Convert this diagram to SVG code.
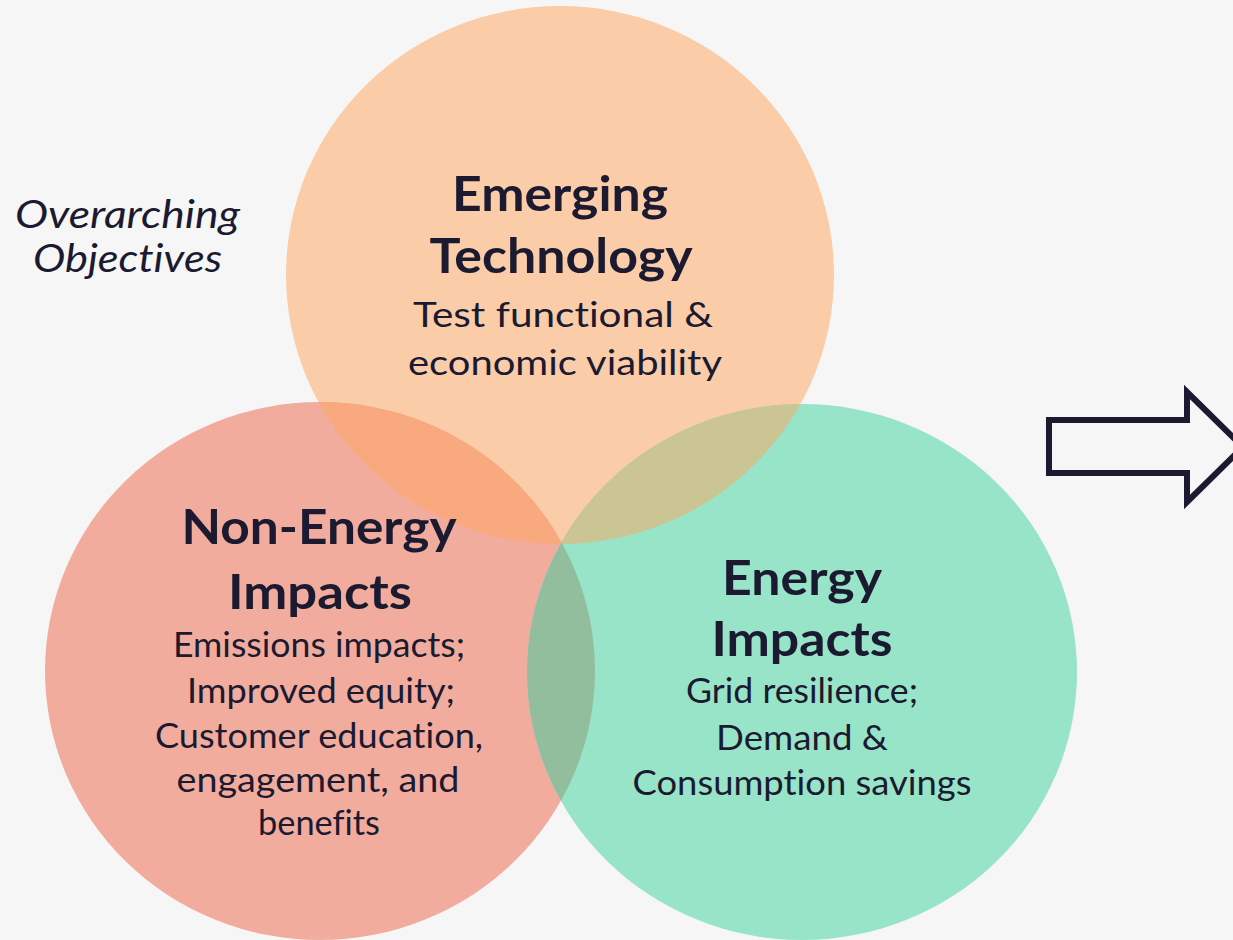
<svg xmlns="http://www.w3.org/2000/svg" width="1233" height="940" viewBox="0 0 1233 940">
  <style>
    text { font-variant-ligatures: none; }
    .title { font-family: Lato, "Liberation Sans", sans-serif; font-weight: 700; font-size: 47px; fill: #1b1a30; text-anchor: middle; }
    .body { font-family: Lato, "Liberation Sans", sans-serif; font-weight: 400; font-size: 34px; fill: #1b1a30; text-anchor: middle; }
    .note { font-family: Lato, "Liberation Sans", sans-serif; font-weight: 400; font-style: italic; font-size: 38px; fill: #1b1a30; }
  </style>
  <defs>
    <ellipse id="cTop" cx="560" cy="275" rx="274" ry="269"/>
    <ellipse id="cLeft" cx="320" cy="671" rx="275" ry="269"/>
    <ellipse id="cRight" cx="802" cy="672" rx="275" ry="268"/>
    <clipPath id="clipTop"><use href="#cTop"/></clipPath>
    <clipPath id="clipLeft"><use href="#cLeft"/></clipPath>
  </defs>
  <rect width="1233" height="940" fill="#f6f6f6"/>

  <g id="circles">
    <use href="#cTop" fill="#facca8"/>
    <use href="#cLeft" fill="#f2ac9e"/>
    <use href="#cRight" fill="#98e4c8"/>
  </g>
  <g id="overlaps">
    <g clip-path="url(#clipTop)">
      <use href="#cLeft" fill="#f8a97e"/>
      <use href="#cRight" fill="#cbc493"/>
    </g>
    <g clip-path="url(#clipLeft)">
      <use href="#cRight" fill="#93be9e"/>
    </g>
  </g>

  <g id="node-emerging-technology">
    <text class="title" x="560" y="211" textLength="216" lengthAdjust="spacingAndGlyphs">Emerging</text>
    <text class="title" x="561" y="273" textLength="263" lengthAdjust="spacingAndGlyphs">Technology</text>
    <text class="body" x="563" y="327" textLength="300" lengthAdjust="spacingAndGlyphs">Test functional &amp;</text>
    <text class="body" x="565" y="375" textLength="314" lengthAdjust="spacingAndGlyphs">economic viability</text>
  </g>

  <g id="node-non-energy-impacts">
    <text class="title" x="319" y="544" textLength="275" lengthAdjust="spacingAndGlyphs">Non-Energy</text>
    <text class="title" x="320" y="609" textLength="184" lengthAdjust="spacingAndGlyphs">Impacts</text>
    <text class="body" x="319" y="657" font-size="32" textLength="292" lengthAdjust="spacingAndGlyphs">Emissions impacts;</text>
    <text class="body" x="321" y="703" font-size="32" textLength="268" lengthAdjust="spacingAndGlyphs">Improved equity;</text>
    <text class="body" x="319" y="748" font-size="32" textLength="328" lengthAdjust="spacingAndGlyphs">Customer education,</text>
    <text class="body" x="318" y="792" font-size="32" textLength="283" lengthAdjust="spacingAndGlyphs">engagement, and</text>
    <text class="body" x="319" y="835" font-size="32" textLength="122" lengthAdjust="spacingAndGlyphs">benefits</text>
  </g>

  <g id="node-energy-impacts">
    <text class="title" x="802" y="595" textLength="160" lengthAdjust="spacingAndGlyphs">Energy</text>
    <text class="title" x="802" y="656" textLength="181" lengthAdjust="spacingAndGlyphs">Impacts</text>
    <text class="body" x="802" y="703" font-size="32" textLength="232" lengthAdjust="spacingAndGlyphs">Grid resilience;</text>
    <text class="body" x="802" y="750" font-size="32" textLength="172" lengthAdjust="spacingAndGlyphs">Demand &amp;</text>
    <text class="body" x="802" y="795" font-size="32" textLength="339" lengthAdjust="spacingAndGlyphs">Consumption savings</text>
  </g>

  <g id="label-overarching">
    <text class="note" x="15" y="228" textLength="225" lengthAdjust="spacingAndGlyphs">Overarching</text>
    <text class="note" x="33" y="272" textLength="189" lengthAdjust="spacingAndGlyphs">Objectives</text>
  </g>

  <g id="connectors">
    <polygon points="1049,420 1187,420 1187,392 1243,447 1187,502 1187,473 1049,473" fill="none" stroke="#1b1a30" stroke-width="6" stroke-linejoin="miter"/>
  </g>
</svg>
